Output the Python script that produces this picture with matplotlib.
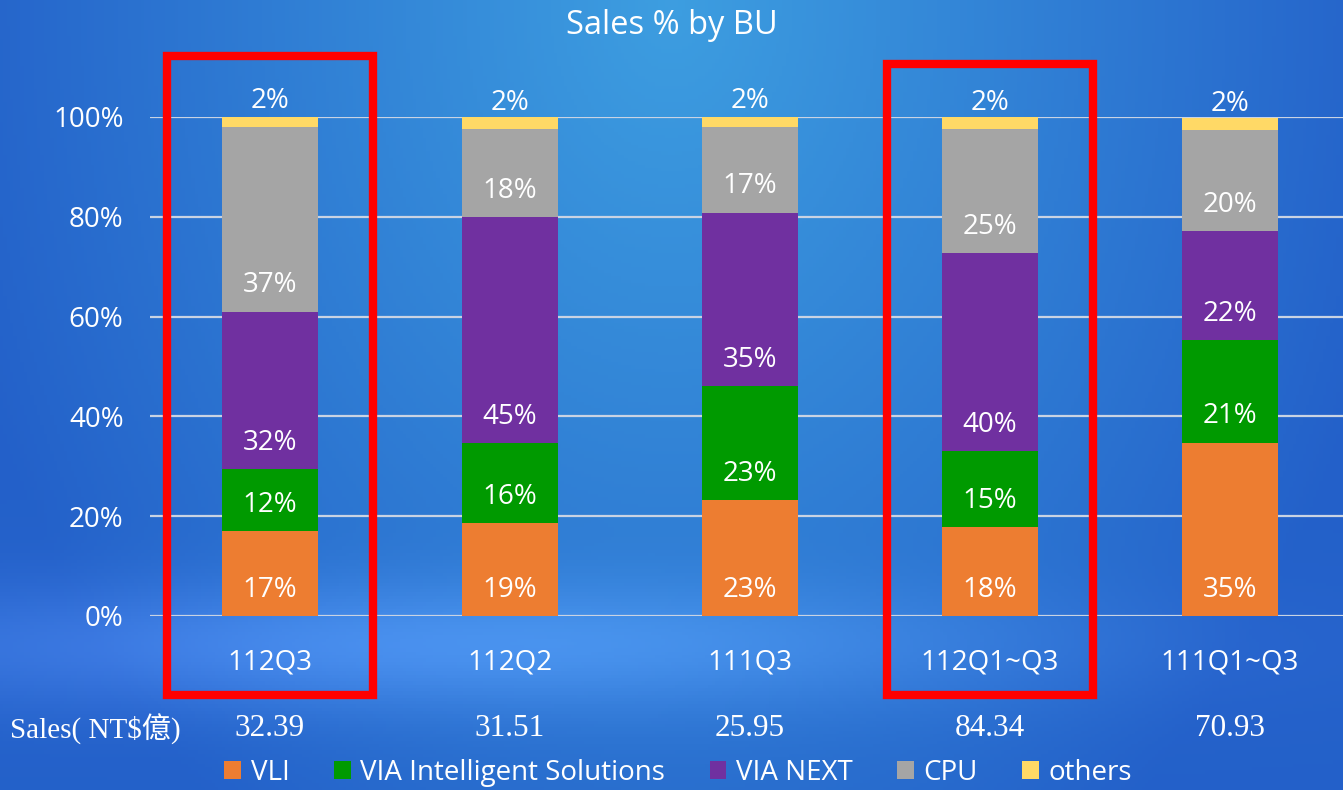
import numpy as np
import matplotlib.pyplot as plt
from matplotlib.patches import Rectangle

periods = ["112Q3", "112Q2", "111Q3", "112Q1~Q3", "111Q1~Q3"]
sales = ["32.39", "31.51", "25.95", "84.34", "70.93"]
series = ["VLI", "VIA Intelligent Solutions", "VIA NEXT", "CPU", "others"]
vli = [17.0, 18.6, 23.2, 17.8, 34.7]
via_is = [12.4, 16.0, 22.9, 15.2, 20.6]
via_next = [31.6, 45.3, 34.7, 39.7, 21.8]
cpu = [37.0, 17.6, 17.2, 24.8, 20.2]
others = [2.0, 2.4, 2.0, 2.4, 2.4]
highlighted = [0, 3]

colors = ["#ED7D31", "#009A00", "#7030A0", "#A5A5A5", "#FFD966"]
txt = "white"
font = ["Open Sans", "DejaVu Sans"]
plt.rcParams['font.family'] = font

W, H = 1343, 790
fig = plt.figure(figsize=(W / 100, H / 100), dpi=100)

# blue background: lighter in the upper middle, darker at the sides
bg = fig.add_axes([0, 0, 1, 1], zorder=-10)
gx, gy = np.meshgrid(np.linspace(-1, 1, 400), np.linspace(0, 1, 240))
r = np.sqrt((gx / 1.1) ** 2 + ((gy) / 1.3) ** 2)
light = np.array([0.24, 0.62, 0.88])
dark = np.array([0.14, 0.38, 0.79])
t = np.clip(r, 0, 1)[..., None]
img = light * (1 - t) + dark * t
band = np.exp(-((gy - 0.82) / 0.08) ** 2)[..., None] * np.exp(-((gx + 0.4) / 0.9) ** 2)[..., None]
img = np.clip(img + band * 0.12, 0, 1)
bg.imshow(img, aspect="auto", extent=[0, 1, 0, 1], origin="upper")
bg.set_axis_off()

ax = fig.add_axes([150 / W, (H - 616) / H, 1200 / W, 499 / H])
ax.set_facecolor("none")
x = np.arange(len(periods))
ax.set_xlim(-0.5, len(periods) - 0.5)
ax.set_ylim(0, 100)

stack = [vli, via_is, via_next, cpu, others]
bottom = np.zeros(len(periods))
for name, vals, c in zip(series, stack, colors):
    vals = np.array(vals)
    ax.bar(x, vals, 0.4, bottom=bottom, color=c, label=name, zorder=3)
    for xi, b, v in zip(x, bottom, vals):
        ax.text(xi, b + 5.3, f"{round(v)}%", ha="center", va="center",
                color=txt, fontsize=20, zorder=4)
    bottom += vals

ax.set_yticks(range(0, 101, 20))
ax.set_yticklabels([f"{v}%" for v in range(0, 101, 20)], fontsize=20, color=txt)
ax.grid(axis="y", color="#C9D3E3", linewidth=1.6, zorder=1)
ax.tick_params(axis="y", length=0, pad=19)
ax.set_xticks(x)
ax.set_xticklabels(periods, fontsize=20, color=txt)
ax.tick_params(axis="x", length=0, pad=23.5)
for s in ax.spines.values():
    s.set_visible(False)

# sales row
serif = ["Liberation Serif", "Noto Sans CJK TC"]
for xi, s in zip(x, sales):
    ax.text(xi, -0.226, s, transform=ax.get_xaxis_transform(), ha="center",
            va="center", fontsize=22.5, color=txt, family=serif)
fig.text(10 / W, (H - 729) / H, "Sales( NT$億)", ha="left", va="center",
         fontsize=21, color=txt, family=serif)

# red boxes around highlighted columns
for i, top in zip(highlighted, [56, 64]):
    x0 = ax.transData.transform((i - 0.43, 0))[0] / W
    x1 = ax.transData.transform((i + 0.43, 0))[0] / W
    fig.add_artist(Rectangle((x0, (H - 695) / H), x1 - x0, (695 - top) / H,
                             fill=False, edgecolor="#FF0000", linewidth=6,
                             transform=fig.transFigure, zorder=5))

fig.suptitle("Sales % by BU", y=(H - 25) / H, va="center", fontsize=23.5, color=txt)

fig.legend(loc="center", bbox_to_anchor=(0.505, (H - 773) / H), ncol=5,
           frameon=False, fontsize=20, labelcolor=txt, handlelength=0.6,
           handleheight=0.6, handletextpad=0.35, columnspacing=1.6,
           borderpad=0.1)

fig.savefig("out.png", dpi=100)
